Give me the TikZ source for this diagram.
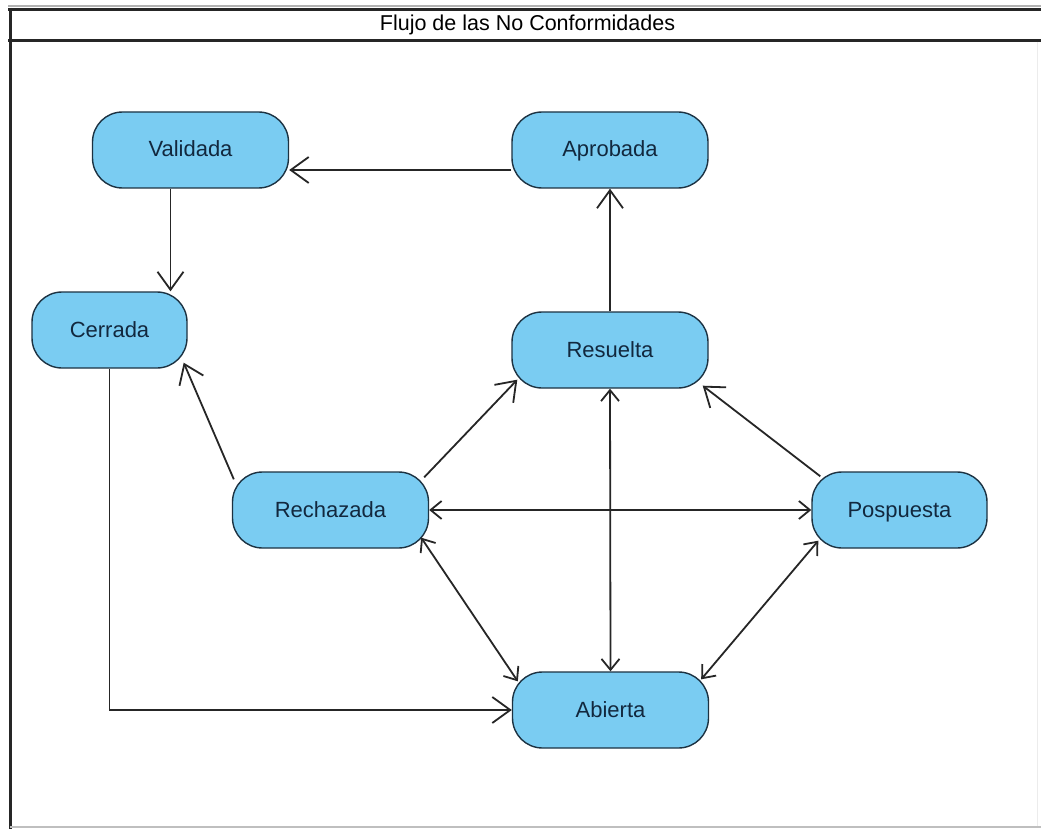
\documentclass[tikz,border=0pt]{standalone}
\usepackage{fontspec}
\setmainfont{Liberation Sans}
\usetikzlibrary{arrows.meta,calc}
\definecolor{statefill}{RGB}{122,204,242}
\definecolor{stateline}{RGB}{28,50,66}
\definecolor{statetext}{RGB}{18,40,62}
\begin{document}
\begin{tikzpicture}[x=1pt,y=-1pt,
  state/.style={draw=stateline, line width=1.4pt, fill=statefill,
    rounded corners=30pt, minimum width=196pt, minimum height=76pt,
    inner sep=0pt, text height=17pt, text depth=3pt,
    font=\fontsize{22}{26}\selectfont, text=statetext},
  flow/.style={line width=1.8pt, draw=black!85},
  edgeone/.style={flow, -{Straight Barb[length=18pt,width=26pt]}},
  edgetwo/.style={flow, {Straight Barb[length=11pt,width=18pt]}-{Straight Barb[length=11pt,width=18pt]}}]

\useasboundingbox (0,0) rectangle (1041,829);
\fill[white] (0,0) rectangle (1041,829);

% diagram frame with title bar
\draw[gray!60, line width=2pt] (8,6) -- (1041,6);
\draw[black!85, line width=3pt] (8,9.5) -- (1041,9.5);
\draw[black!85, line width=3pt] (8,40.5) -- (1041,40.5);
\draw[black!85, line width=3pt] (10,8) -- (10,829);
\draw[gray!50, line width=1.5pt] (10,827) -- (1041,827);
\draw[gray!15, line width=1pt] (1037,42) -- (1037,826);
\node[font=\fontsize{21.5}{25}\selectfont] (title) at (527.5,25) {Flujo de las No Conformidades};

% states
\node[state] (valid) at (190.5,150) {Validada};
\node[state] (aprob) at (610,150) {Aprobada};
\node[state, minimum width=155pt] (cerr) at (109.5,330) {Cerrada};
\node[state] (resu) at (610,350) {Resuelta};
\node[state] (rech) at (330.5,510) {Rechazada};
\node[state, minimum width=175pt] (posp) at (899.5,510) {Pospuesta};
\node[state] (abie) at (610.5,710) {Abierta};

% transitions
\draw[edgeone] ($(aprob.west)+(0,20)$) -- ($(valid.east)+(0,20)$);
\coordinate (vc) at ($(valid.south)+(-20,0)$);
\draw[edgeone] (vc) -- (vc |- cerr.north);
\draw[edgeone] (resu.north) -- (aprob.south);
\draw[edgeone] ($(rech.north west)+(2,8)$) -- ($(cerr.south east)+(-4,-6)$);
\draw[edgeone] ($(rech.north east)+(-5,6)$) -- ($(resu.south west)+(6,-9)$);
\draw[edgeone] ($(posp.north west)+(9,5)$) -- ($(resu.south east)+(-6,-3)$);
\draw[edgetwo] (rech.east) -- (posp.west);
\draw[edgetwo] (resu.south) -- (abie.north);
\draw[edgetwo] ($(rech.south east)+(-8,-11)$) -- ($(abie.north west)+(6,10)$);
\draw[edgetwo] ($(posp.south west)+(7,-8)$) -- ($(abie.north east)+(-8,8)$);
\draw[edgeone] (cerr.south) |- (abie.west);
\end{tikzpicture}
\end{document}
